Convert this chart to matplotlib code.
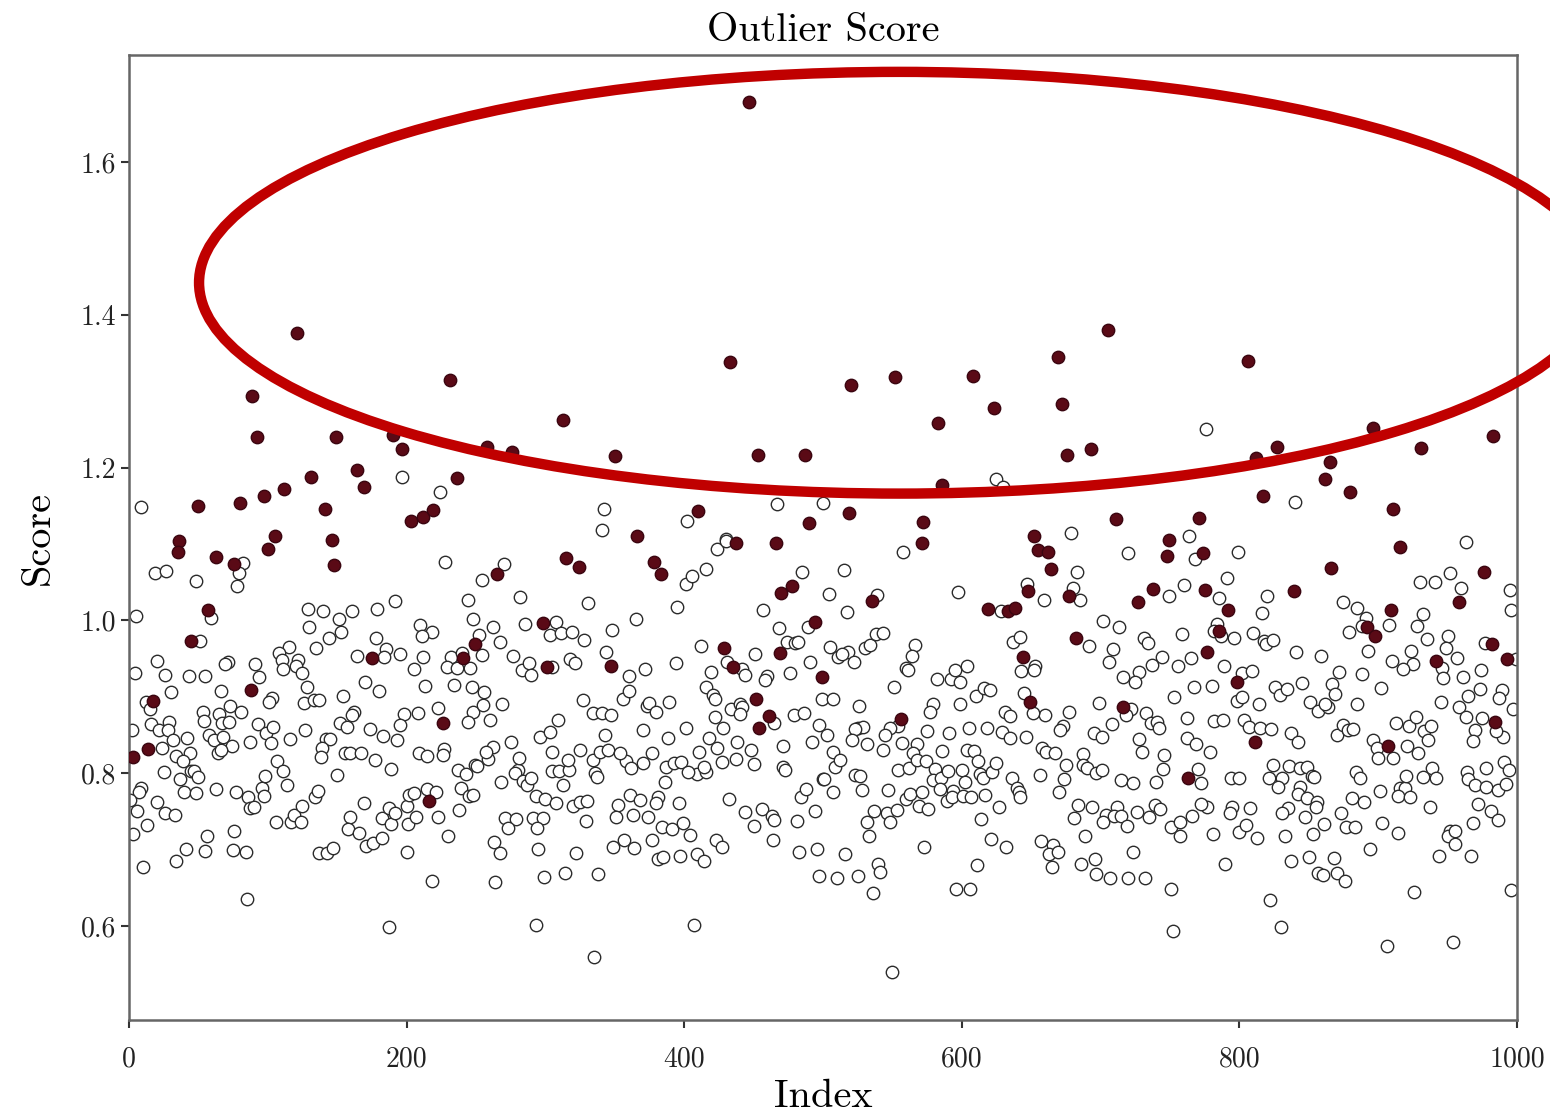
import matplotlib
matplotlib.use("Agg")
import matplotlib.pyplot as plt
from matplotlib.patches import Ellipse

plt.rcParams['font.family'] = 'serif'
plt.rcParams['font.serif'] = ['cmr10', 'DejaVu Serif']
plt.rcParams['axes.formatter.use_mathtext'] = True
plt.rcParams['mathtext.fontset'] = 'cm'

# ---------------- data: (index, score) ----------------
outlier_pts = [
    (3, 0.821), (14, 0.832), (17, 0.894), (36, 1.104), (35, 1.090), (45, 0.973), (50, 1.150),
    (57, 1.014), (63, 1.083), (76, 1.074), (80, 1.154), (88, 0.909), (89, 1.294), (92, 1.240),
    (97, 1.163), (100, 1.093), (105, 1.111), (112, 1.172), (121, 1.376), (131, 1.188),
    (141, 1.146), (146, 1.105), (148, 1.073), (149, 1.240), (164, 1.197), (169, 1.175),
    (175, 0.951), (190, 1.243), (197, 1.224), (203, 1.130), (212, 1.136), (219, 1.144),
    (216, 0.764), (226, 0.866), (231, 1.315), (236, 1.186), (241, 0.951), (249, 0.969),
    (258, 1.227), (265, 1.061), (276, 1.220), (298, 0.997), (301, 0.939), (313, 1.262),
    (315, 1.082), (324, 1.070), (347, 0.940), (350, 1.215), (366, 1.110), (378, 1.076),
    (383, 1.061), (410, 1.143), (429, 0.964), (433, 1.338), (435, 0.939), (437, 1.101),
    (447, 1.678), (452, 0.897), (453, 1.216), (454, 0.859), (461, 0.875), (466, 1.101),
    (469, 0.957), (470, 1.036), (478, 1.045), (487, 1.216), (490, 1.127), (494, 0.998),
    (499, 0.926), (519, 1.140), (520, 1.308), (535, 1.025), (552, 1.319), (556, 0.871),
    (571, 1.101), (572, 1.129), (583, 1.258), (586, 1.177), (608, 1.320), (619, 1.015),
    (623, 1.278), (633, 1.012), (638, 1.016), (644, 0.952), (648, 1.038), (649, 0.893),
    (652, 1.110), (655, 1.092), (662, 1.089), (664, 1.067), (669, 1.345), (672, 1.283),
    (676, 1.216), (677, 1.032), (682, 0.977), (693, 1.224), (705, 1.380), (711, 1.133),
    (716, 0.887), (727, 1.024), (738, 1.041), (748, 1.084), (749, 1.105), (763, 0.794),
    (771, 1.134), (774, 1.088), (775, 1.040), (777, 0.958), (785, 0.986), (792, 1.014),
    (798, 0.919), (806, 1.339), (811, 0.841), (812, 1.213), (817, 1.163), (827, 1.227),
    (839, 1.038), (862, 1.185), (865, 1.207), (866, 1.069), (880, 1.168), (892, 0.991),
    (896, 1.252), (898, 0.980), (907, 0.836), (909, 1.014), (911, 1.146), (916, 1.096),
    (931, 1.226), (942, 0.947), (958, 1.024), (976, 1.063), (982, 0.969), (983, 1.242),
    (984, 0.867), (993, 0.949),
]

inlier_pts = [
    # upper sparse region
    (9, 1.148), (197, 1.188), (224, 1.168), (342, 1.146), (341, 1.118), (402, 1.130),
    (430, 1.106), (467, 1.152), (500, 1.154), (625, 1.185), (630, 1.175), (679, 1.114),
    (776, 1.250), (840, 1.155), (764, 1.110), (963, 1.103),
    # index 0-250, score 0.82-1.08
    (19, 1.062), (27, 1.065), (48, 1.052), (82, 1.075), (79, 1.062), (78, 1.045), (228, 1.077),
    (5, 1.006), (59, 1.003), (129, 1.015), (140, 1.012), (151, 1.002), (161, 1.012), (179, 1.015),
    (192, 1.025), (244, 1.027), (248, 1.002), (130, 0.991), (153, 0.985), (144, 0.977), (135, 0.964),
    (178, 0.977), (210, 0.994), (218, 0.985), (211, 0.979), (51, 0.973), (115, 0.965), (108, 0.957),
    (110, 0.948), (122, 0.948), (120, 0.940), (111, 0.936), (125, 0.931), (164, 0.953), (185, 0.962),
    (184, 0.952), (195, 0.956), (212, 0.952), (205, 0.936), (232, 0.952), (240, 0.957), (229, 0.939),
    (236, 0.938), (246, 0.938), (20, 0.947), (71, 0.946), (69, 0.943), (91, 0.943), (4, 0.931),
    (26, 0.929), (43, 0.927), (55, 0.927), (94, 0.926), (128, 0.913), (170, 0.919), (180, 0.908),
    (213, 0.914), (234, 0.916), (247, 0.913), (30, 0.906), (66, 0.908), (103, 0.899), (101, 0.893),
    (126, 0.892), (133, 0.896), (137, 0.896), (154, 0.901), (12, 0.893), (15, 0.884), (53, 0.880),
    (54, 0.868), (65, 0.877), (67, 0.866), (72, 0.867), (73, 0.888), (81, 0.880), (162, 0.880),
    (161, 0.876), (198, 0.877), (208, 0.879), (223, 0.885), (195, 0.863), (248, 0.880), (244, 0.867),
    (16, 0.864), (29, 0.867), (22, 0.857), (28, 0.856), (2, 0.856), (32, 0.843), (42, 0.846),
    (58, 0.850), (61, 0.843), (68, 0.847), (74, 0.835), (87, 0.841), (93, 0.864), (99, 0.853),
    (104, 0.860), (102, 0.840), (116, 0.845), (127, 0.856), (142, 0.845), (145, 0.845), (152, 0.866),
    (157, 0.861), (174, 0.858), (183, 0.849), (193, 0.843), (24, 0.833), (34, 0.823), (44, 0.826),
    (64, 0.827), (66, 0.830), (139, 0.833), (156, 0.827), (159, 0.827), (167, 0.827), (209, 0.826),
    (215, 0.823), (227, 0.832), (226, 0.824),
    # index 0-250, score below 0.82
    (39, 0.816), (25, 0.802), (45, 0.803), (47, 0.803), (50, 0.795), (37, 0.792), (40, 0.775),
    (48, 0.774), (63, 0.779), (9, 0.781), (7, 0.775), (1, 0.765), (20, 0.762), (6, 0.750),
    (26, 0.748), (33, 0.745), (13, 0.732), (3, 0.720), (10, 0.677), (34, 0.685), (41, 0.701),
    (55, 0.698), (56, 0.718), (75, 0.700), (84, 0.697), (76, 0.724), (85, 0.635), (77, 0.775),
    (86, 0.769), (87, 0.754), (90, 0.756), (96, 0.781), (97, 0.770), (98, 0.796), (107, 0.816),
    (111, 0.803), (114, 0.784), (106, 0.736), (117, 0.736), (119, 0.745), (124, 0.736), (125, 0.757),
    (134, 0.769), (136, 0.777), (138, 0.821), (150, 0.798), (137, 0.696), (143, 0.696), (147, 0.702),
    (159, 0.743), (158, 0.727), (166, 0.722), (169, 0.761), (171, 0.705), (176, 0.709), (182, 0.715),
    (177, 0.817), (189, 0.805), (182, 0.741), (187, 0.754), (189, 0.733), (192, 0.748), (200, 0.757),
    (201, 0.733), (202, 0.772), (205, 0.774), (207, 0.743), (200, 0.697), (215, 0.779), (221, 0.776),
    (223, 0.743), (230, 0.718), (218, 0.659), (187, 0.599), (237, 0.804), (243, 0.799), (239, 0.781),
    (245, 0.770), (238, 0.752), (249, 0.811),
    # index 250-500, score below 0.82
    (251, 0.809), (259, 0.818), (268, 0.788), (248, 0.771), (280, 0.804), (278, 0.800), (284, 0.790),
    (287, 0.785), (290, 0.794), (293, 0.770), (300, 0.766), (308, 0.761), (305, 0.803), (310, 0.803),
    (317, 0.804), (316, 0.817), (313, 0.785), (334, 0.817), (336, 0.800), (337, 0.795), (320, 0.757),
    (325, 0.762), (330, 0.764), (271, 0.741), (279, 0.740), (273, 0.728), (291, 0.741), (298, 0.741),
    (294, 0.728), (329, 0.737), (263, 0.710), (267, 0.695), (264, 0.658), (295, 0.701), (322, 0.695),
    (299, 0.664), (314, 0.669), (338, 0.668), (293, 0.601), (335, 0.559), (352, 0.758), (351, 0.743),
    (361, 0.771), (368, 0.765), (363, 0.745), (374, 0.743), (381, 0.769), (380, 0.761), (384, 0.730),
    (391, 0.727), (377, 0.712), (349, 0.703), (357, 0.712), (364, 0.702), (381, 0.688), (385, 0.690),
    (397, 0.691), (409, 0.694), (414, 0.685), (396, 0.761), (399, 0.735), (404, 0.719), (407, 0.601),
    (423, 0.712), (427, 0.703), (432, 0.766), (444, 0.749), (456, 0.753), (463, 0.744), (465, 0.739),
    (450, 0.731), (464, 0.712), (481, 0.737), (484, 0.769), (488, 0.779), (494, 0.750), (500, 0.792),
    (483, 0.697), (496, 0.701), (497, 0.665), (471, 0.808), (473, 0.804), (358, 0.816), (362, 0.807),
    (370, 0.814), (387, 0.808), (393, 0.813), (398, 0.815), (409, 0.799), (416, 0.802), (403, 0.802),
    (386, 0.788), (427, 0.815), (437, 0.819), (450, 0.812), (414, 0.808),
    # index 250-500, score 0.82-1.08
    (254, 1.053), (270, 1.074), (282, 1.031), (331, 1.023), (365, 1.002), (348, 0.988), (395, 1.018),
    (401, 1.047), (406, 1.058), (416, 1.067), (424, 1.093), (430, 1.104), (457, 1.014), (485, 1.063),
    (262, 0.991), (252, 0.981), (267, 0.972), (254, 0.955), (285, 0.995), (308, 0.998), (303, 0.981),
    (311, 0.983), (319, 0.985), (328, 0.974), (277, 0.953), (283, 0.935), (288, 0.944), (290, 0.929),
    (305, 0.939), (318, 0.949), (321, 0.944), (344, 0.959), (360, 0.927), (372, 0.936), (394, 0.944),
    (412, 0.966), (419, 0.932), (431, 0.946), (442, 0.936), (444, 0.929), (451, 0.956), (460, 0.927),
    (458, 0.922), (468, 0.990), (476, 0.931), (474, 0.972), (480, 0.970), (482, 0.972), (489, 0.991),
    (491, 0.946), (499, 0.897), (256, 0.906), (255, 0.889), (269, 0.890), (260, 0.870), (327, 0.896),
    (356, 0.897), (360, 0.907), (373, 0.888), (375, 0.892), (380, 0.880), (389, 0.893), (416, 0.913),
    (421, 0.902), (422, 0.897), (434, 0.884), (440, 0.890), (442, 0.887), (440, 0.877), (334, 0.879),
    (341, 0.879), (347, 0.876), (309, 0.870), (370, 0.856), (343, 0.850), (401, 0.859), (422, 0.873),
    (428, 0.859), (465, 0.866), (479, 0.876), (486, 0.879), (497, 0.863), (296, 0.847), (303, 0.854),
    (275, 0.841), (262, 0.834), (257, 0.828), (281, 0.820), (305, 0.828), (325, 0.830), (339, 0.828),
    (345, 0.830), (354, 0.826), (377, 0.826), (388, 0.846), (411, 0.828), (418, 0.846), (424, 0.833),
    (438, 0.841), (448, 0.830), (471, 0.836), (492, 0.841),
    # index 500-750, score 0.82-1.08
    (558, 1.090), (515, 1.066), (504, 1.035), (517, 1.011), (539, 1.033), (597, 1.037), (647, 1.048),
    (659, 1.027), (680, 1.042), (685, 1.027), (683, 1.063), (720, 1.088), (628, 1.012), (702, 0.999),
    (713, 0.991), (731, 0.977), (734, 0.970), (692, 0.966), (709, 0.962), (706, 0.945), (744, 0.952),
    (737, 0.941), (728, 0.932), (725, 0.919), (716, 0.926), (637, 0.972), (642, 0.978), (643, 0.934),
    (653, 0.940), (652, 0.935), (505, 0.965), (511, 0.952), (518, 0.959), (514, 0.956), (522, 0.945),
    (530, 0.964), (534, 0.968), (538, 0.982), (543, 0.983), (566, 0.968), (564, 0.953), (560, 0.938),
    (561, 0.935), (551, 0.913), (582, 0.923), (592, 0.923), (595, 0.935), (599, 0.919), (604, 0.940),
    (610, 0.901), (616, 0.911), (620, 0.909), (599, 0.890), (579, 0.890), (577, 0.880), (526, 0.888),
    (507, 0.897), (645, 0.905), (660, 0.876), (651, 0.879), (631, 0.880), (635, 0.875), (677, 0.880),
    (699, 0.892), (722, 0.884), (718, 0.876), (733, 0.879), (736, 0.866), (741, 0.867), (742, 0.859),
    (708, 0.864), (695, 0.853), (701, 0.847), (673, 0.862), (671, 0.856), (646, 0.847), (629, 0.854),
    (635, 0.846), (618, 0.859), (605, 0.859), (591, 0.853), (575, 0.855), (554, 0.862), (548, 0.859),
    (545, 0.850), (557, 0.839), (568, 0.838), (525, 0.859), (529, 0.860), (523, 0.858), (521, 0.843),
    (532, 0.838), (503, 0.850), (507, 0.828), (543, 0.830), (565, 0.826), (586, 0.829), (604, 0.830),
    (609, 0.829), (658, 0.833), (661, 0.828), (667, 0.826), (687, 0.825), (728, 0.845), (730, 0.828),
    # index 500-750, score below 0.82
    (509, 0.808), (512, 0.817), (501, 0.792), (507, 0.775), (523, 0.798), (527, 0.796), (528, 0.778),
    (554, 0.804), (562, 0.807), (568, 0.817), (574, 0.816), (547, 0.778), (560, 0.766), (563, 0.773),
    (571, 0.775), (569, 0.757), (576, 0.753), (581, 0.805), (579, 0.791), (585, 0.794), (590, 0.803),
    (584, 0.779), (589, 0.764), (594, 0.777), (593, 0.769), (601, 0.770), (600, 0.804), (602, 0.788),
    (607, 0.769), (612, 0.816), (613, 0.799), (615, 0.794), (617, 0.772), (622, 0.802), (625, 0.813),
    (627, 0.756), (614, 0.740), (636, 0.794), (640, 0.781), (641, 0.775), (642, 0.769), (656, 0.798),
    (670, 0.775), (674, 0.792), (675, 0.811), (687, 0.811), (690, 0.807), (697, 0.800), (701, 0.804),
    (715, 0.791), (723, 0.787), (740, 0.788), (745, 0.806), (684, 0.758), (694, 0.756), (681, 0.741),
    (704, 0.745), (702, 0.736), (712, 0.756), (710, 0.744), (715, 0.744), (719, 0.731), (726, 0.749),
    (735, 0.743), (739, 0.758), (743, 0.753), (751, 0.730), (537, 0.750), (546, 0.748), (553, 0.752),
    (548, 0.736), (532, 0.736), (533, 0.718), (516, 0.694), (510, 0.663), (525, 0.665), (540, 0.681),
    (541, 0.671), (536, 0.643), (550, 0.540), (573, 0.703), (611, 0.680), (596, 0.649), (606, 0.649),
    (621, 0.714), (632, 0.703), (657, 0.711), (666, 0.706), (663, 0.694), (669, 0.697), (665, 0.677),
    (689, 0.718), (686, 0.681), (696, 0.688), (697, 0.668), (707, 0.663), (720, 0.663), (732, 0.663),
    (723, 0.697), (751, 0.648), (752, 0.594),
    # index 750-1000, score 0.82-1.08
    (768, 1.080), (799, 1.089), (791, 1.055), (760, 1.046), (749, 1.032), (785, 1.029), (820, 1.032),
    (816, 1.010), (875, 1.024), (885, 1.016), (891, 1.003), (888, 0.993), (908, 0.994), (879, 0.985),
    (759, 0.982), (784, 0.995), (782, 0.986), (787, 0.979), (796, 0.977), (810, 0.983), (818, 0.973),
    (819, 0.969), (824, 0.974), (841, 0.958), (859, 0.953), (893, 0.960), (930, 1.050), (941, 1.050),
    (952, 1.062), (960, 1.042), (995, 1.040), (996, 1.014), (932, 1.008), (928, 0.993), (935, 0.976),
    (950, 0.979), (949, 0.964), (957, 0.951), (924, 0.960), (910, 0.947), (925, 0.943), (918, 0.936),
    (977, 0.970), (999, 0.949), (974, 0.935), (961, 0.926), (946, 0.938), (947, 0.925), (973, 0.910),
    (965, 0.901), (989, 0.909), (987, 0.898), (958, 0.887), (963, 0.873), (975, 0.872), (997, 0.884),
    (945, 0.893), (756, 0.940), (765, 0.951), (789, 0.940), (802, 0.931), (809, 0.934), (767, 0.913),
    (780, 0.914), (753, 0.900), (798, 0.894), (802, 0.900), (814, 0.890), (826, 0.913), (829, 0.902),
    (834, 0.910), (845, 0.918), (851, 0.893), (857, 0.881), (864, 0.887), (862, 0.890), (867, 0.917),
    (869, 0.904), (872, 0.932), (885, 0.890), (888, 0.930), (902, 0.911), (762, 0.872), (782, 0.868),
    (788, 0.870), (803, 0.870), (807, 0.860), (815, 0.859), (823, 0.858), (837, 0.853), (842, 0.841),
    (762, 0.846), (769, 0.838), (779, 0.828), (746, 0.824), (870, 0.850), (875, 0.863), (878, 0.856),
    (882, 0.858), (896, 0.843), (899, 0.833), (913, 0.866), (922, 0.862), (927, 0.873), (933, 0.855),
    (938, 0.862), (936, 0.843), (921, 0.835), (929, 0.826), (970, 0.856), (968, 0.842), (990, 0.847),
    (985, 0.855),
    # index 750-1000, score below 0.82
    (770, 0.805), (772, 0.787), (794, 0.794), (800, 0.794), (824, 0.811), (836, 0.809), (821, 0.794),
    (831, 0.794), (828, 0.782), (844, 0.807), (849, 0.808), (852, 0.796), (854, 0.795), (844, 0.782),
    (842, 0.773), (849, 0.767), (856, 0.762), (855, 0.756), (847, 0.743), (835, 0.754), (831, 0.748),
    (808, 0.754), (795, 0.756), (793, 0.748), (777, 0.756), (772, 0.760), (766, 0.744), (757, 0.736),
    (757, 0.718), (781, 0.720), (800, 0.723), (805, 0.732), (813, 0.715), (833, 0.718), (853, 0.720),
    (861, 0.733), (873, 0.748), (877, 0.730), (883, 0.729), (881, 0.767), (890, 0.762), (884, 0.802),
    (887, 0.794), (901, 0.777), (900, 0.820), (911, 0.820), (916, 0.781), (919, 0.781), (914, 0.770),
    (923, 0.769), (920, 0.796), (932, 0.795), (939, 0.807), (942, 0.794), (937, 0.756), (903, 0.735),
    (914, 0.722), (894, 0.701), (964, 0.802), (965, 0.792), (970, 0.785), (978, 0.807), (978, 0.782),
    (986, 0.778), (992, 0.786), (991, 0.815), (994, 0.804), (972, 0.760), (981, 0.750), (986, 0.739),
    (968, 0.735), (952, 0.724), (950, 0.718), (955, 0.725), (955, 0.707), (944, 0.692), (967, 0.692),
    (790, 0.681), (837, 0.685), (850, 0.690), (868, 0.689), (857, 0.669), (860, 0.667), (870, 0.669),
    (876, 0.659), (822, 0.634), (830, 0.599), (926, 0.644), (906, 0.574), (954, 0.579), (996, 0.647),
]

x_ticks = [0, 200, 400, 600, 800, 1000]
y_ticks = [0.6, 0.8, 1.0, 1.2, 1.4, 1.6]

# highlight ellipse around the high-score region (data units)
ell_center = (555, 1.442)
ell_width = 1009
ell_height = 0.552

# ---------------- plot ----------------
fig = plt.figure(figsize=(15.5, 11.19), dpi=100)
ax = fig.add_axes([0.0832, 0.0885, 0.8955, 0.8623])

in_x = [p[0] for p in inlier_pts]
in_y = [p[1] for p in inlier_pts]
out_x = [p[0] for p in outlier_pts]
out_y = [p[1] for p in outlier_pts]

ax.scatter(in_x, in_y, s=80, facecolors='white', edgecolors='#2b2b2b',
           linewidths=1.0, zorder=2)
ax.scatter(out_x, out_y, s=80, facecolors='#5a0a16', edgecolors='#3a0510',
           linewidths=1.0, zorder=3)

ax.add_patch(Ellipse(ell_center, ell_width, ell_height, fill=False,
                     edgecolor='#c00000', linewidth=7.5, clip_on=False, zorder=4))

ax.set_xlim(0, 1000)
ax.set_ylim(0.477, 1.740)
ax.set_xticks(x_ticks)
ax.set_yticks(y_ticks)
ax.set_xticklabels([str(v) for v in x_ticks])
ax.set_yticklabels([f"{v:.1f}" for v in y_ticks])

ax.set_title("Outlier Score", fontsize=29, pad=10)
ax.set_xlabel("Index", fontsize=29, labelpad=5)
ax.set_ylabel("Score", fontsize=29, labelpad=17)

ax.tick_params(axis='both', labelsize=20, direction='out', length=6, width=1.5,
               colors='#333333', labelcolor='#222222')
ax.tick_params(axis='x', pad=13)
ax.tick_params(top=False, right=False)
for sp in ax.spines.values():
    sp.set_color('#666666')
    sp.set_linewidth(1.8)

fig.savefig("out.png", dpi=100, facecolor='white')
